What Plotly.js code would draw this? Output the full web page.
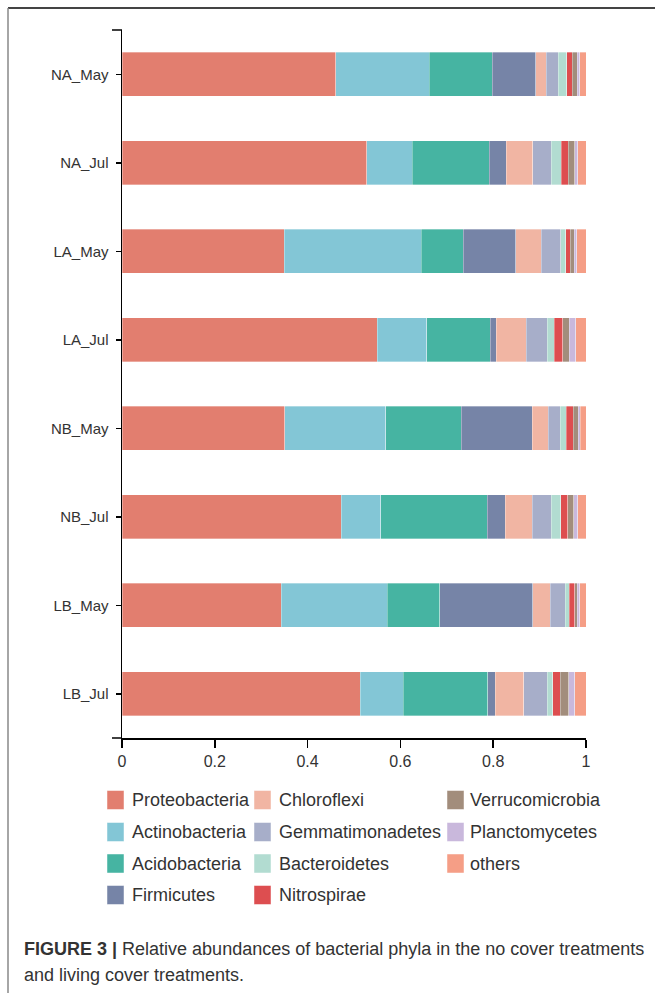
<!DOCTYPE html>
<html>
<head>
<meta charset="utf-8">
<script src="https://cdn.plot.ly/plotly-3.0.1.min.js"></script>
<style>html,body{margin:0;padding:0;background:#fff;}#chart{width:655px;height:993px;}</style>
</head>
<body>
<div id="chart"></div>
<script>
// ---- data ----
const categories = ['NA_May','NA_Jul','LA_May','LA_Jul','NB_May','NB_Jul','LB_May','LB_Jul'];
const seriesNames = ['Proteobacteria','Actinobacteria','Acidobacteria','Firmicutes','Chloroflexi','Gemmatimonadetes','Bacteroidetes','Nitrospirae','Verrucomicrobia','Planctomycetes','others'];
const Proteobacteria   = [0.461,0.527,0.350,0.550,0.351,0.472,0.343,0.513];
const Actinobacteria   = [0.201,0.098,0.295,0.107,0.217,0.086,0.229,0.093];
const Acidobacteria    = [0.136,0.167,0.090,0.137,0.163,0.229,0.113,0.182];
const Firmicutes       = [0.094,0.036,0.114,0.013,0.153,0.039,0.200,0.016];
const Chloroflexi      = [0.022,0.057,0.055,0.064,0.035,0.058,0.038,0.062];
const Gemmatimonadetes = [0.026,0.040,0.042,0.046,0.025,0.041,0.032,0.050];
const Bacteroidetes    = [0.018,0.022,0.010,0.015,0.013,0.021,0.009,0.012];
const Nitrospirae      = [0.012,0.015,0.010,0.018,0.015,0.015,0.012,0.016];
const Verrucomicrobia  = [0.011,0.014,0.009,0.014,0.011,0.013,0.005,0.019];
const Planctomycetes   = [0.005,0.006,0.005,0.014,0.005,0.008,0.005,0.013];
const others           = [0.014,0.018,0.020,0.022,0.012,0.018,0.014,0.024];
const seriesValues = [Proteobacteria,Actinobacteria,Acidobacteria,Firmicutes,Chloroflexi,Gemmatimonadetes,Bacteroidetes,Nitrospirae,Verrucomicrobia,Planctomycetes,others];
const xTickVals = [0,0.2,0.4,0.6,0.8,1];
const xTickText = ['0','0.2','0.4','0.6','0.8','1'];
const captionBold = 'FIGURE 3 |';
const captionLine1 = 'Relative abundances of bacterial phyla in the no cover treatments';
const captionLine2 = 'and living cover treatments.';

// ---- style ----
const colors = ['#E27E6F','#83C6D6','#46B4A2','#7684A7','#F1B5A3','#A7AEC9','#B2DCD1','#DD4E50','#A28D7C','#C9B8DC','#F59E86'];
const W = 655, H = 993, L = 122, R = 586, T = 30, B = 738;
const px = v => (v - L) / (R - L);
const py = v => (B - v) / (B - T);

const traces = seriesNames.map((name, i) => ({
  type: 'bar', orientation: 'h', name: name,
  y: categories, x: seriesValues[i],
  marker: {color: colors[i], line: {color: 'rgba(255,255,255,0.55)', width: 0.6}},
  width: 0.5, showlegend: false, hoverinfo: 'x+y+name'
}));

const shapes = [];
const annotations = [];
// manual legend (column-major: 4 rows)
const colSw = [107, 254, 447], colTx = [130, 277, 468], rowY = [800, 832, 863.5, 895];
seriesNames.forEach((name, i) => {
  const c = Math.floor(i / 4), r = i % 4;
  shapes.push({type: 'rect', xref: 'paper', yref: 'paper', x0: px(colSw[c]), x1: px(colSw[c] + 17), y0: py(rowY[r] - 9.5), y1: py(rowY[r] + 9.5), fillcolor: colors[i], line: {width: 0.8, color: 'rgba(255,255,255,0.6)'}});
  annotations.push({xref: 'paper', yref: 'paper', x: px(colTx[c]), y: py(rowY[r]), xanchor: 'left', yanchor: 'middle', text: name, showarrow: false, font: {family: 'Liberation Sans, Arial, sans-serif', size: 18, color: '#333'}});
});
// axis ends
shapes.push({type: 'line', xref: 'paper', yref: 'paper', x0: px(112), x1: px(122), y0: py(B), y1: py(B), line: {color: '#000', width: 1.5}});
shapes.push({type: 'line', xref: 'paper', yref: 'paper', x0: px(112), x1: px(122), y0: py(T), y1: py(T), line: {color: '#000', width: 1.5}});
// frame
shapes.push({type: 'line', xref: 'paper', yref: 'paper', x0: px(8), x1: px(655), y0: py(8), y1: py(8), line: {color: '#444', width: 2}});
shapes.push({type: 'line', xref: 'paper', yref: 'paper', x0: px(8), x1: px(8), y0: py(8), y1: py(993), line: {color: '#888', width: 1.5}});
// caption
annotations.push({xref: 'paper', yref: 'paper', x: px(22), y: py(949), xanchor: 'left', yanchor: 'middle', showarrow: false,
  text: '<b>' + captionBold + '</b> ' + captionLine1, font: {family: 'Liberation Sans Narrow, Arial Narrow, sans-serif', size: 18, color: '#333'}});
annotations.push({xref: 'paper', yref: 'paper', x: px(22), y: py(975), xanchor: 'left', yanchor: 'middle', showarrow: false,
  text: captionLine2, font: {family: 'Liberation Sans Narrow, Arial Narrow, sans-serif', size: 18, color: '#333'}});

const layout = {
  width: W, height: H,
  margin: {l: L, r: W - R, t: T, b: H - B, pad: 0},
  paper_bgcolor: '#fff', plot_bgcolor: '#fff',
  barmode: 'stack', bargap: 0.5,
  showlegend: false,
  font: {family: 'Liberation Sans, Arial, sans-serif', color: '#333', size: 15},
  xaxis: {range: [0, 1], tickvals: xTickVals, ticktext: xTickText, showgrid: false, zeroline: false,
    showline: true, linecolor: '#000', linewidth: 1.5, ticks: 'outside', ticklen: 8, tickwidth: 1.5, tickcolor: '#000',
    tickfont: {size: 16, color: '#333'}, fixedrange: true},
  yaxis: {type: 'category', categoryorder: 'array', categoryarray: categories, range: [7.5, -0.5], showgrid: false, zeroline: false,
    showline: true, linecolor: '#000', linewidth: 1.5, ticks: 'outside', ticklen: 5, tickwidth: 1.5, tickcolor: '#000',
    tickfont: {size: 15, color: '#333'}, ticklabelstandoff: 4, fixedrange: true},
  shapes: shapes, annotations: annotations
};

Plotly.newPlot('chart', traces, layout, {staticPlot: true, displayModeBar: false});
</script>
</body>
</html>
